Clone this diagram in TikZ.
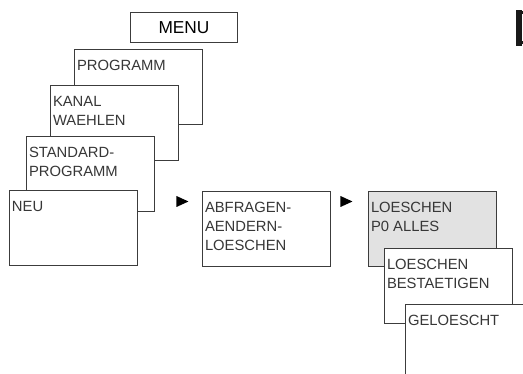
\documentclass[tikz,border=0pt]{standalone}
\usepackage{fontspec}
\setmainfont{Liberation Sans}
\usetikzlibrary{shapes.geometric}
\definecolor{linegray}{RGB}{60,60,60}
\definecolor{txtgray}{RGB}{55,55,55}
\definecolor{selgray}{RGB}{226,226,226}
\newcommand{\boxtxt}[1]{\parbox[c][75pt][t]{123pt}{\vspace*{11pt}\raggedright #1}}

\begin{document}
\begin{tikzpicture}[x=1pt,y=-1pt]
    \tikzstyle{b}=[draw=linegray,line width=1pt,fill=white,anchor=north west,inner xsep=2.5pt,inner ysep=0pt,text=txtgray,font=\fontsize{14.8}{19}\selectfont]
    \tikzstyle{tri}=[isosceles triangle,isosceles triangle stretches,fill=black,inner sep=0pt,minimum width=11pt,minimum height=12pt,anchor=apex]
    \path[use as bounding box,clip] (0,0) rectangle (523,374);
    % title
    \node[draw=linegray,line width=1pt,minimum width=107pt,minimum height=30pt,anchor=north west,font=\fontsize{17.3}{20}\selectfont] (menu) at (130,12) {MENU};
    % menu stack
    \node[b] (prog) at (74,49) {\boxtxt{PROGRAMM}};
    \node[b] (kanal) at (50,85) {\boxtxt{KANAL\\WAEHLEN}};
    \node[b] (std) at (26,136) {\boxtxt{STANDARD-\\PROGRAMM}};
    \node[b] (neu) at (9,190) {\boxtxt{NEU}};
    \node[tri] (go1) at (189,201.5) {};
    \node[b] (abfr) at (202,191) {\boxtxt{ABFRAGEN-\\AENDERN-\\LOESCHEN}};
    \node[tri] (go2) at (353,201.5) {};
    % delete sequence
    \node[b,fill=selgray] (loesch) at (368,191) {\boxtxt{LOESCHEN\\P0 ALLES}};
    \node[b] (best) at (384,248) {\boxtxt{LOESCHEN\\BESTAETIGEN}};
    \node[b] (done) at (405,304) {\boxtxt{GELOESCHT}};
    % cut-off box at the edge
    \node[draw=black!90,line width=3pt,minimum width=40pt,minimum height=30pt,anchor=north west] (edge) at (517.5,11.5) {};
    \fill[black!90] ([xshift=-1.5pt,yshift=1.5pt]edge.north west) rectangle ([xshift=4.5pt,yshift=-1.5pt]edge.south west);
\end{tikzpicture}
\end{document}
